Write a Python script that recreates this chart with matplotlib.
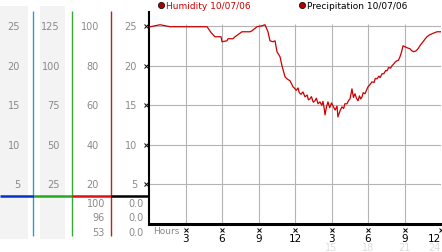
import matplotlib
matplotlib.use('Agg')
import matplotlib.pyplot as plt
import matplotlib.transforms as mtrans
from matplotlib.patches import Rectangle

# humidity trace (hour of day, value)
hours = [0, 0.9, 1.73, 3.0, 4.0, 4.77, 5.1, 5.42, 5.92, 6.0, 6.41, 6.49, 6.9, 7.07,
         7.64, 8.3, 8.47, 8.88, 9.29, 9.53, 9.78, 9.94, 10.19, 10.36, 10.52, 10.77,
         10.93, 11.18, 11.34, 11.59, 11.84, 12.0, 12.1, 12.25, 12.35, 12.5, 12.65,
         12.82, 13.0, 13.1, 13.23, 13.35, 13.5, 13.64, 13.75, 13.9, 14.05, 14.2,
         14.3, 14.4, 14.47, 14.6, 14.71, 14.85, 15.0, 15.12, 15.3, 15.45, 15.53,
         15.7, 15.86, 16.0, 16.1, 16.27, 16.4, 16.52, 16.6, 16.68, 16.8, 16.93,
         17.05, 17.18, 17.3, 17.4, 17.51, 17.6, 17.75, 17.9, 18.0, 18.15, 18.33,
         18.5, 18.6, 18.74, 18.9, 19.0, 19.15, 19.3, 19.45, 19.56, 19.7, 19.85,
         19.97, 20.1, 20.25, 20.38, 20.5, 20.63, 20.75, 20.88, 21.05, 21.21, 21.45,
         21.6, 21.78, 21.95, 22.11, 22.3, 22.52, 22.7, 22.85, 23.05, 23.26, 23.67, 24.0]
humidity = [24.9, 25.19, 24.94, 24.94, 24.94, 24.94, 24.2, 23.67, 23.67, 23.04, 23.16,
            23.42, 23.42, 23.67, 24.3, 24.3, 24.43, 24.94, 25.06, 25.19, 24.3, 23.16,
            23.04, 23.16, 21.77, 21.14, 20.0, 18.61, 18.35, 18.1, 17.34, 17.09, 16.9,
            17.2, 16.6, 16.4, 16.7, 16.08, 16.3, 15.7, 15.82, 16.1, 15.4, 15.57, 15.9,
            15.2, 15.44, 15.0, 15.5, 14.6, 13.8, 14.9, 15.44, 14.7, 15.3, 14.94, 14.4,
            14.9, 13.54, 14.3, 14.81, 14.6, 15.2, 15.19, 15.6, 15.82, 16.4, 17.09, 16.0,
            16.46, 15.9, 15.57, 16.2, 15.8, 16.08, 16.6, 16.46, 17.0, 17.34, 17.6,
            17.97, 17.9, 18.4, 18.35, 18.7, 18.5, 18.99, 19.0, 19.4, 19.37, 19.8, 19.7,
            20.0, 20.2, 20.5, 20.63, 20.7, 21.14, 21.7, 22.53, 22.4, 22.28, 22.15,
            21.9, 21.77, 21.9, 22.15, 22.6, 23.04, 23.4, 23.67, 23.9, 24.05, 24.3, 24.3]

x_ticks = [3, 6, 9, 12, 15, 18, 21, 24]
x_labels = ['3', '6', '9', '12', '3', '6', '9', '12']
x_faint = ['', '', '', '', '15', '18', '21', '24']
y_grid = [25, 20, 15, 10, 5]
col_a = [25, 20, 15, 10, 5]        # scale factor 1
col_b = [125, 100, 75, 50, 25]     # scale factor 5
col_c = [100, 80, 60, 40, 20]      # scale factor 4
readout_c = ['100', '96', '53']
readout_d = ['0.0', '0.0', '0.0']

W, H = 442, 253
fig = plt.figure(figsize=(W / 100, H / 100), dpi=100)

# background axes in pixel units for the side panel
bg = fig.add_axes([0, 0, 1, 1], zorder=0)
bg.set_xlim(0, W)
bg.set_ylim(H, 0)
bg.axis('off')

ax = fig.add_axes([149 / W, (H - 225) / H, 292 / W, 212 / H], zorder=1)
ax.set_facecolor('none')
ax.set_xlim(0, 24)
ax.set_ylim(0, 26.8)
ax.set_xticks([])
ax.set_yticks([])
for s in ['top', 'right']:
    ax.spines[s].set_visible(False)
ax.spines['left'].set_linewidth(1.5)
ax.spines['bottom'].set_linewidth(2.2)

# grid
ax.hlines(y_grid, 0, 24, color='#b4b4b4', lw=0.8, zorder=1)
ax.vlines(x_ticks[:-1], 0, 25.3, color='#b4b4b4', lw=0.8, zorder=1)

ax.plot(hours, humidity, color='#cc0000', lw=0.9, zorder=3)

lab = dict(fontsize=7, color='#8a8a8a', va='center', ha='right')
py = mtrans.blended_transform_factory(bg.transData, ax.transData)
px = mtrans.blended_transform_factory(ax.transData, bg.transData)

# side panel columns
bg.add_patch(Rectangle((0, 7), 28, 233, color='#f3f3f3', lw=0))
bg.add_patch(Rectangle((40, 7), 25, 233, color='#f3f3f3', lw=0))
bg.vlines(33, 12, 237, color='#3399cc', lw=1)
bg.vlines(72, 12, 237, color='#33aa33', lw=1)
bg.vlines(111, 12, 237, color='#bb2222', lw=1)
bg.hlines(197, 0, 34, color='#0033cc', lw=1.8)
bg.hlines(197, 34, 72, color='#22aa22', lw=1.8)
bg.hlines(197, 72, 111, color='#dd1111', lw=1.8)
bg.hlines(197, 111, 149, color='black', lw=1.8)

for v in col_a:
    bg.text(20, v, str(v), transform=py, **lab)
for v in col_b:
    bg.text(60, v / 5, str(v), transform=py, **lab)
for v in col_c:
    bg.text(99, v / 4, str(v), transform=py, **lab)
for v in y_grid:
    bg.text(137, v, str(v), transform=py, **lab)
for i, (a, b) in enumerate(zip(readout_c, readout_d)):
    bg.text(105, 204 + i * 14.5, a, **lab)
    bg.text(144, 204 + i * 14.5, b, **lab)

# small tick markers
bg.plot([146] * len(y_grid), y_grid, 'x', ms=2.5, mew=0.7, color='black',
        transform=py, clip_on=False)
ax.plot(x_ticks, [231] * len(x_ticks), 'x', ms=2.5, mew=0.7, color='black',
        transform=px, clip_on=False)
for t, l, f in zip(x_ticks, x_labels, x_faint):
    ha = 'right' if t == x_ticks[-1] else 'center'
    ax.text(t, 239, l, transform=px, fontsize=7.5, ha=ha, va='center',
            color='black')
    if f:
        ax.text(t, 248, f, transform=px, fontsize=7, ha=ha, va='center',
                color='#dddddd')
bg.text(153, 232, 'Hours', fontsize=6.5, color='#8a8a8a', ha='left', va='center')

# legend
bg.plot(161, 6, 'o', ms=4.5, mfc='#aa0000', mec='black', mew=0.5)
bg.text(166, 6, 'Humidity 10/07/06', fontsize=6.5, color='#cc0000',
        ha='left', va='center')
bg.plot(302, 6, 'o', ms=4.5, mfc='#aa0000', mec='black', mew=0.5)
bg.text(307, 6, 'Precipitation 10/07/06', fontsize=6.5, color='black',
        ha='left', va='center')

fig.savefig('out.png', dpi=100)
